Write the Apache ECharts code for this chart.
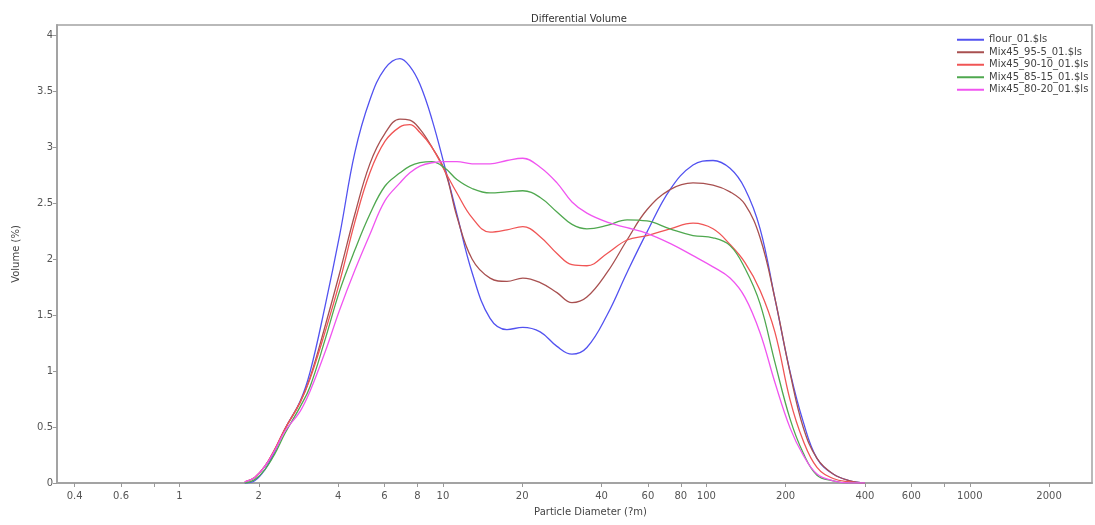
<!DOCTYPE html>
<html>
<head>
<meta charset="utf-8">
<script src="https://cdn.jsdelivr.net/npm/echarts@6/dist/echarts.min.js"></script>
<style>
html,body{margin:0;padding:0;background:#fff;}
#chart{width:1095px;height:525px;}
</style>
</head>
<body>
<div id="chart"></div>
<script>
// Particle diameters (µm) at which the curves are sampled
const diameters = [1.77, 1.93, 2.11, 2.30, 2.51, 2.87, 3.13, 3.57, 4.06, 4.63, 5.28, 6.02, 6.87, 7.49, 8.18, 9.08, 10.2, 11.3, 12.9, 15.1, 17.5, 20.1, 23.4, 27.1, 30.9, 35.2, 42.0, 50.0, 59.5, 72.8, 89.0, 106, 123, 140, 160, 182, 208, 233, 263, 303, 351, 400];

// Differential volume (%)
const flour01   = [0, 0.02, 0.12, 0.28, 0.48, 0.73, 0.99, 1.58, 2.22, 2.95, 3.42, 3.70, 3.79, 3.72, 3.56, 3.25, 2.81, 2.40, 1.88, 1.47, 1.37, 1.39, 1.35, 1.22, 1.15, 1.21, 1.50, 1.88, 2.24, 2.62, 2.84, 2.88, 2.81, 2.63, 2.27, 1.65, 0.99, 0.55, 0.22, 0.08, 0.02, 0];
const mix95_5   = [0.01, 0.05, 0.15, 0.30, 0.48, 0.72, 0.94, 1.40, 1.88, 2.40, 2.85, 3.12, 3.25, 3.24, 3.16, 3.00, 2.78, 2.38, 2.00, 1.83, 1.80, 1.83, 1.79, 1.70, 1.61, 1.66, 1.88, 2.17, 2.44, 2.62, 2.68, 2.66, 2.60, 2.49, 2.19, 1.65, 0.98, 0.50, 0.22, 0.08, 0.02, 0];
const mix90_10  = [0.01, 0.05, 0.15, 0.30, 0.48, 0.72, 0.93, 1.35, 1.80, 2.33, 2.77, 3.05, 3.18, 3.20, 3.13, 3.00, 2.78, 2.59, 2.37, 2.24, 2.26, 2.29, 2.20, 2.05, 1.95, 1.94, 2.05, 2.17, 2.21, 2.27, 2.32, 2.27, 2.13, 1.97, 1.72, 1.35, 0.74, 0.38, 0.14, 0.04, 0.01, 0];
const mix85_15  = [0, 0.03, 0.12, 0.26, 0.44, 0.68, 0.86, 1.28, 1.72, 2.08, 2.40, 2.65, 2.77, 2.83, 2.86, 2.87, 2.81, 2.71, 2.63, 2.59, 2.60, 2.61, 2.55, 2.42, 2.31, 2.27, 2.30, 2.35, 2.34, 2.27, 2.21, 2.19, 2.12, 1.92, 1.60, 1.08, 0.57, 0.27, 0.07, 0.02, 0, 0];
const mix80_20  = [0.01, 0.05, 0.15, 0.29, 0.46, 0.64, 0.82, 1.17, 1.55, 1.90, 2.22, 2.52, 2.68, 2.77, 2.83, 2.86, 2.87, 2.87, 2.85, 2.85, 2.88, 2.90, 2.82, 2.68, 2.51, 2.41, 2.33, 2.28, 2.23, 2.14, 2.03, 1.93, 1.83, 1.66, 1.34, 0.90, 0.49, 0.25, 0.08, 0.02, 0, 0];

const seriesNames = ['flour_01.$ls', 'Mix45_95-5_01.$ls', 'Mix45_90-10_01.$ls', 'Mix45_85-15_01.$ls', 'Mix45_80-20_01.$ls'];
const seriesValues = [flour01, mix95_5, mix90_10, mix85_15, mix80_20];
const seriesColors = ['#5252f0', '#a85050', '#f05555', '#4fa84f', '#f055f0'];

// X axis ticks (µm)
const xTickValues  = [0.4, 0.6, 0.8, 1, 2, 4, 6, 8, 10, 20, 40, 60, 80, 100, 200, 400, 600, 800, 1000, 2000];
const xLabelValues = [0.4, 0.6, 1, 2, 4, 6, 8, 10, 20, 40, 60, 80, 100, 200, 400, 600, 1000, 2000];
const yTickValues  = [0, 0.5, 1, 1.5, 2, 2.5, 3, 3.5, 4];

const chart = echarts.init(document.getElementById('chart'));
const font = '"DejaVu Sans", "Liberation Sans", sans-serif';
const frame = '#a3a3a3';

const series = seriesNames.map((name, i) => ({
  name: name,
  type: 'line',
  smooth: 0.4,
  showSymbol: false,
  symbol: 'none',
  lineStyle: { color: seriesColors[i], width: 1.3 },
  itemStyle: { color: seriesColors[i] },
  data: diameters.map((d, k) => [Math.log10(d), seriesValues[i][k]])
}));

chart.setOption({
  animation: false,
  backgroundColor: '#fff',
  title: {
    text: 'Differential Volume',
    left: 574, top: 9, textAlign: 'center',
    textStyle: { fontFamily: font, fontSize: 10, fontWeight: 'normal', color: '#333' }
  },
  legend: {
    orient: 'vertical',
    left: 952, top: 29,
    itemWidth: 27, itemHeight: 2, itemGap: 1,
    icon: 'rect',
    textStyle: { fontFamily: font, fontSize: 10, color: '#444', lineHeight: 11.5 },
    data: seriesNames
  },
  grid: {
    left: 57, right: 3, top: 25, bottom: 42,
    show: true, borderColor: frame, borderWidth: 1.5, backgroundColor: '#fff'
  },
  xAxis: {
    type: 'value',
    min: -0.465, max: 3.464,
    name: 'Particle Diameter (?m)',
    nameLocation: 'middle', nameGap: 24,
    nameTextStyle: { fontFamily: font, fontSize: 10, color: '#444', padding: [0, 0, 0, 32] },
    axisLine: { show: true, onZero: false, lineStyle: { color: frame, width: 2 } },
    axisTick: { show: true, length: 4, lineStyle: { color: '#999' }, customValues: xTickValues.map(v => Math.log10(v)) },
    axisLabel: {
      fontFamily: font, fontSize: 10, color: '#555', margin: 8,
      customValues: xLabelValues.map(v => Math.log10(v)),
      formatter: v => String(parseFloat(Math.pow(10, v).toPrecision(3)))
    },
    splitLine: { show: false }
  },
  yAxis: {
    type: 'value',
    min: 0, max: 4.09,
    name: 'Volume (%)',
    nameLocation: 'middle', nameGap: 36, nameRotate: 90,
    nameTextStyle: { fontFamily: font, fontSize: 10, color: '#444' },
    axisLine: { show: true, onZero: false, lineStyle: { color: frame, width: 2 } },
    axisTick: { show: true, length: 4, lineStyle: { color: '#999' }, customValues: yTickValues },
    axisLabel: { fontFamily: font, fontSize: 10, color: '#555', margin: 4, customValues: yTickValues },
    splitLine: { show: false }
  },
  series: series
});
</script>
</body>
</html>
